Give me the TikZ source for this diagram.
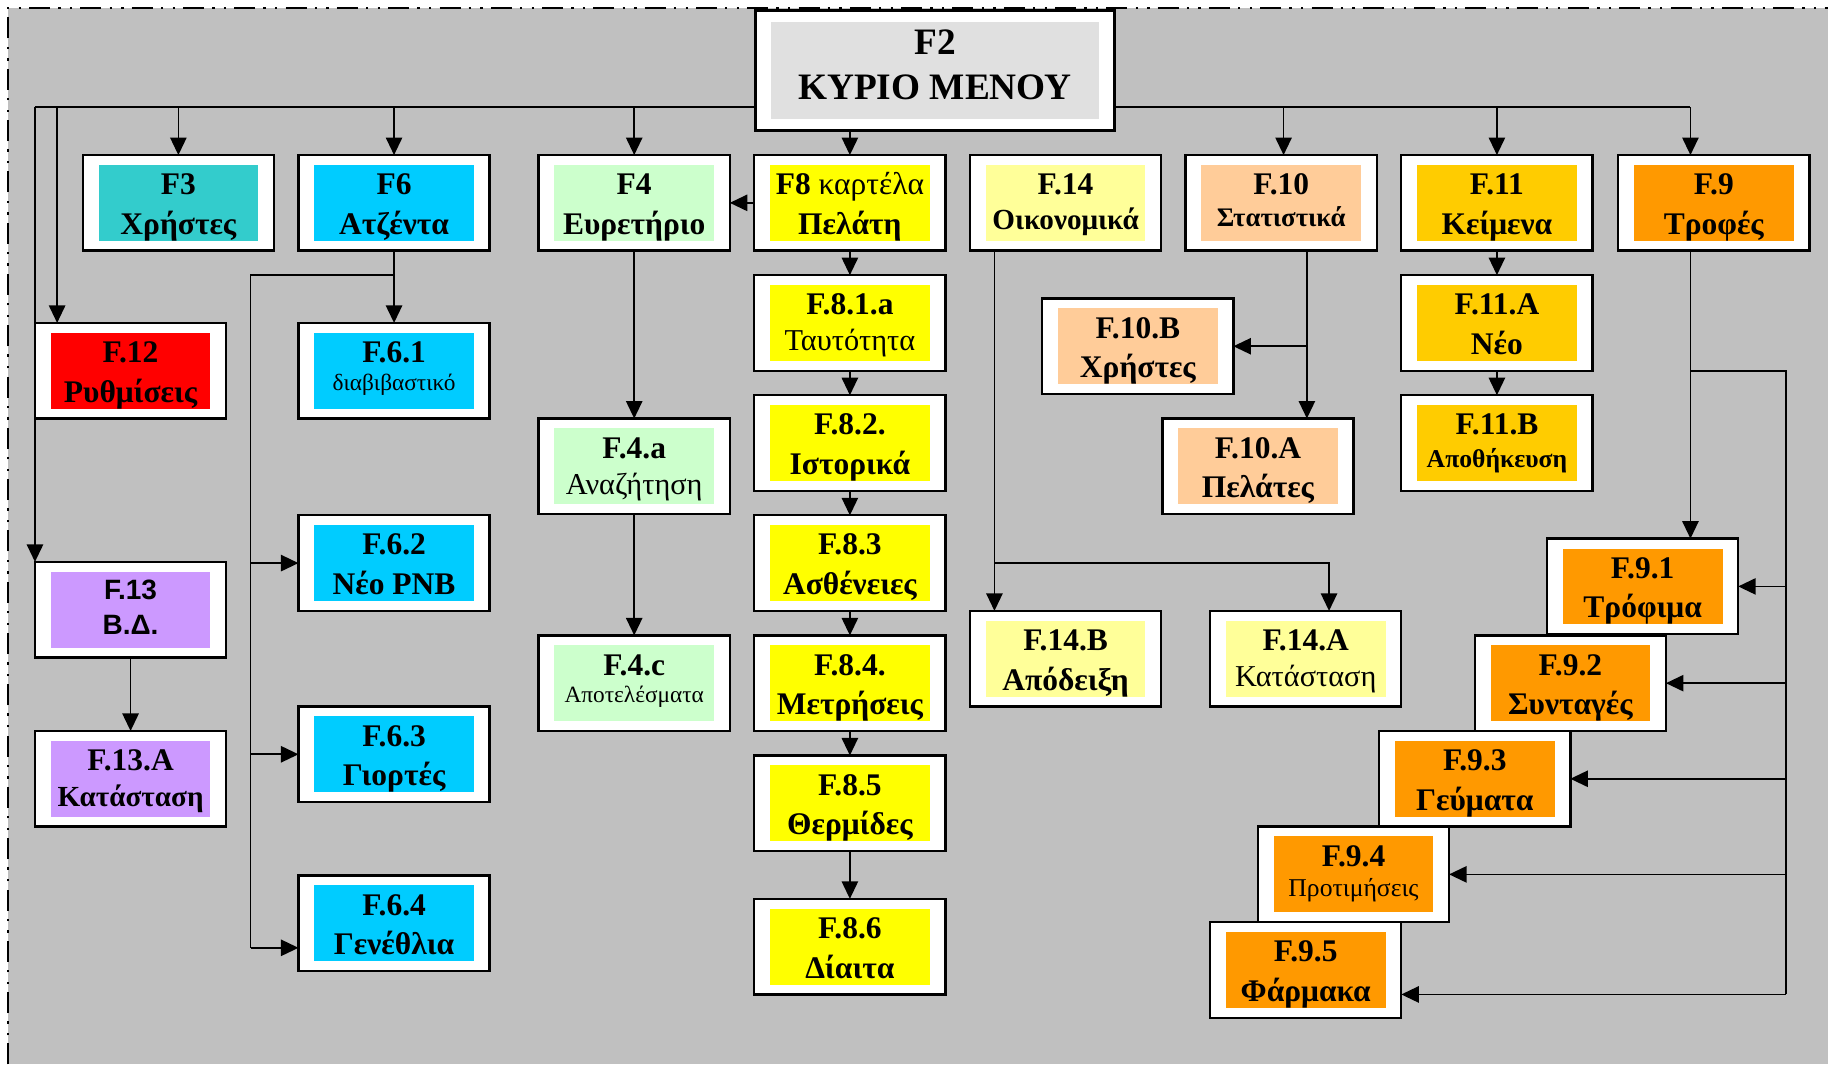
\documentclass[tikz,border=0pt]{standalone}
\usepackage{fontspec}
\setmainfont{Liberation Serif}
\setsansfont{Liberation Sans}
\usetikzlibrary{arrows.meta}

\definecolor{bggray}{HTML}{C0C0C0}
\definecolor{mainfill}{HTML}{E0E0E0}
\definecolor{cTeal}{HTML}{33CCCC}
\definecolor{cCyan}{HTML}{00CCFF}
\definecolor{cMint}{HTML}{CCFFCC}
\definecolor{cYellow}{HTML}{FFFF00}
\definecolor{cPale}{HTML}{FFFF99}
\definecolor{cTan}{HTML}{FFCC99}
\definecolor{cGold}{HTML}{FFCC00}
\definecolor{cOrange}{HTML}{FF9900}
\definecolor{cRed}{HTML}{FF0000}
\definecolor{cLilac}{HTML}{CC99FF}

\tikzset{
  outerbox/.style={draw=black, fill=white, line width=2pt, minimum width=164pt,
    minimum height=82pt, inner sep=0pt, outer sep=0pt, anchor=north west},
  innerbox/.style={draw=none, minimum width=137pt, minimum height=65pt, inner sep=0pt},
  lineA/.style={anchor=base, inner sep=0pt, font=\bfseries\fontsize{27}{30}\selectfont},
  lineB/.style={anchor=base, inner sep=0pt, font=\bfseries\fontsize{27}{30}\selectfont},
  conn/.style={line width=1.4pt, draw=black},
  arr/.style={conn, -{Triangle[length=15pt,width=14pt]}},
  bus/.style={line width=2pt, draw=black},
  frame/.style={line width=2pt, draw=black,
    dash pattern=on 18pt off 7pt on 2pt off 8pt on 2pt off 7pt},
}

% \menubox[baseline offset of line 2]{name}{left}{top}{colour}{line 1}{line 2}
\newcommand\menubox[7][68]{%
  \node[outerbox] (#2) at (#3,#4) {};
  \node[innerbox, fill=#5] at (#2.center) {};
  \node[lineA] at ([yshift=-34pt]#2.north) {#6};
  \node[lineB] at ([yshift=-#1pt]#2.north) {#7};
}
\newcommand\smalltext[2]{{\fontsize{#1}{#1}\selectfont #2}}

\begin{document}
\begin{tikzpicture}[x=1pt, y=-1pt]
\useasboundingbox (0,0) rectangle (1568,913);

% grey sheet with its dash-dot frame
\fill[bggray] (7,7) rectangle (1568,913);
\draw[frame] (7,913) -- (7,7) -- (1568,7);

% main distribution bus
\coordinate (busL) at (30,92);
\coordinate (busR) at (1450,92);
\draw[bus] (busL) -- (busR);

% main menu
\node[outerbox, minimum width=308pt, minimum height=103pt] (F2) at (648,9) {};
\node[innerbox, fill=mainfill, minimum width=281pt, minimum height=84pt] at (F2.center) {};
\node[lineA, font=\bfseries\fontsize{32}{34}\selectfont] at ([yshift=-38pt]F2.north) {F2};
\node[lineA, font=\bfseries\fontsize{32}{34}\selectfont] at ([yshift=-76pt]F2.north) {ΚΥΡΙΟ ΜΕΝΟΥ};

% first row
\menubox{F3}{71}{133}{cTeal}{F3}{Χρήστες}
\menubox{F6}{256}{133}{cCyan}{F6}{Ατζέντα}
\menubox{F4}{462}{133}{cMint}{F4}{Ευρετήριο}
\menubox{F8}{647}{133}{cYellow}{F8 \mdseries καρτέλα}{Πελάτη}
\menubox[64]{F14}{832}{133}{cPale}{F.14}{\smalltext{25}{Οικονομικά}}
\menubox[61]{F10}{1017}{133}{cTan}{F.10}{\smalltext{23}{Στατιστικά}}
\menubox{F11}{1202}{133}{cGold}{F.11}{Κείμενα}
\menubox{F9}{1388}{133}{cOrange}{F.9}{Τροφές}

% settings and database
\menubox{F12}{30}{277}{cRed}{F.12}{Ρυθμίσεις}
\node[outerbox] (F13) at (30,482) {};
\node[innerbox, fill=cLilac] at (F13.center) {};
\node[lineA, font=\sffamily\bfseries\fontsize{24}{26}\selectfont] at ([yshift=-32pt]F13.north) {F.13};
\node[lineA, font=\sffamily\bfseries\fontsize{24}{26}\selectfont] at ([yshift=-62pt]F13.north) {Β.Δ.};
\menubox[65]{F13A}{30}{627}{cLilac}{F.13.A}{\smalltext{25}{Κατάσταση}}

% agenda
\menubox[58]{F61}{256}{277}{cCyan}{F.6.1}{\smalltext{20}{\mdseries διαβιβαστικό}}
\menubox{F62}{256}{442}{cCyan}{F.6.2}{Νέο PNB}
\menubox{F63}{256}{606}{cCyan}{F.6.3}{Γιορτές}
\menubox{F64}{256}{751}{cCyan}{F.6.4}{Γενέθλια}

% index
\menubox[65]{F4a}{462}{359}{cMint}{F.4.a}{\smalltext{26}{\mdseries Αναζήτηση}}
\menubox[58]{F4c}{462}{545}{cMint}{F.4.c}{\smalltext{20}{\mdseries Αποτελέσματα}}

% customer card
\menubox[65]{F81}{647}{236}{cYellow}{F.8.1.a}{\smalltext{26}{\mdseries Ταυτότητα}}
\menubox{F82}{647}{339}{cYellow}{F.8.2.}{Ιστορικά}
\menubox{F83}{647}{442}{cYellow}{F.8.3}{Ασθένειες}
\menubox{F84}{647}{545}{cYellow}{F.8.4.}{Μετρήσεις}
\menubox{F85}{647}{648}{cYellow}{F.8.5}{Θερμίδες}
\menubox{F86}{647}{771}{cYellow}{F.8.6}{Δίαιτα}

% finance
\menubox{F14B}{832}{524}{cPale}{F.14.B}{Απόδειξη}
\menubox[65]{F14A}{1038}{524}{cPale}{F.14.A}{\smalltext{26}{\mdseries Κατάσταση}}

% statistics
\menubox{F10B}{894}{256}{cTan}{F.10.B}{Χρήστες}
\menubox{F10A}{997}{359}{cTan}{F.10.A}{Πελάτες}

% texts
\menubox{F11A}{1202}{236}{cGold}{F.11.A}{Νέο}
\menubox[62]{F11B}{1202}{339}{cGold}{F.11.B}{\smalltext{22}{Αποθήκευση}}

% foods
\menubox{F91}{1327}{462}{cOrange}{F.9.1}{Τρόφιμα}
\menubox{F92}{1265}{545}{cOrange}{F.9.2}{Συνταγές}
\menubox{F93}{1183}{627}{cOrange}{F.9.3}{Γεύματα}
\menubox[60]{F94}{1079}{709}{cOrange}{F.9.4}{\smalltext{22}{\mdseries Προτιμήσεις}}
\menubox{F95}{1038}{791}{cOrange}{F.9.5}{Φάρμακα}

% drops from the main bus
\draw[arr] (F3.north |- busL) -- (F3.north);
\draw[arr] (F6.north |- busL) -- (F6.north);
\draw[arr] (F4.north |- busL) -- (F4.north);
\draw[arr] ([xshift=2pt]F10.north |- busL) -- ([xshift=2pt]F10.north);
\draw[arr] (F11.north |- busL) -- (F11.north);
\draw[arr] ([xshift=-20pt]F9.north |- busL) -- ([xshift=-20pt]F9.north);
\draw[arr] ([xshift=19pt]F12.north west |- busL) -- ([xshift=19pt]F12.north west);
\draw[arr] (busL) -- (F13.north west);
\draw[arr] (F8.north |- F2.south) -- (F8.north);

% customer card chain
\draw[arr] (F8.west) -- (F4.east);
\draw[arr] (F8.south) -- (F81.north);
\draw[arr] (F81.south) -- (F82.north);
\draw[arr] (F82.south) -- (F83.north);
\draw[arr] (F83.south) -- (F84.north);
\draw[arr] (F84.south) -- (F85.north);
\draw[arr] (F85.south) -- (F86.north);

% index chain
\draw[arr] (F4.south) -- (F4a.north);
\draw[arr] (F4a.south) -- (F4c.north);

% database
\draw[arr] (F13.south) -- (F13A.north);

% agenda branch
\coordinate (f6j) at (215,236);
\draw[arr] (F6.south) -- (F61.north);
\draw[conn] (F6.south |- f6j) -- (f6j) -- ([yshift=-21pt]F64.west -| f6j);
\draw[arr] (F62.west -| f6j) -- (F62.west);
\draw[arr] (F63.west -| f6j) -- (F63.west);
\draw[arr] ([yshift=-21pt]F64.west -| f6j) -- ([yshift=-21pt]F64.west);

% finance branch
\coordinate (f14j) at (853,483);
\draw[conn] (F14.south -| f14j) -- (f14j);
\draw[arr] (f14j) -- (F14B.north -| f14j);
\draw[arr] (f14j) -- ([xshift=20pt]F14A.north |- f14j) -- ([xshift=20pt]F14A.north);

% statistics branch
\coordinate (f10j) at (1121,297);
\draw[arr] (F10.south -| f10j) -- (F10A.north -| f10j);
\draw[arr] (f10j) -- (F10B.east);

% texts chain
\draw[arr] (F11.south) -- (F11A.north);
\draw[arr] (F11A.south) -- (F11B.north);

% foods branch
\coordinate (f9j) at (1450,318);
\coordinate (f9r) at (1532,318);
\draw[arr] (F9.south -| f9j) -- (F91.north -| f9j);
\draw[conn] (f9j) -- (f9r) -- ([yshift=-21pt]F95.east -| f9r);
\draw[arr] (F91.east -| f9r) -- (F91.east);
\draw[arr] (F92.east -| f9r) -- (F92.east);
\draw[arr] (F93.east -| f9r) -- (F93.east);
\draw[arr] (F94.east -| f9r) -- (F94.east);
\draw[arr] ([yshift=-21pt]F95.east -| f9r) -- ([yshift=-21pt]F95.east);
\end{tikzpicture}
\end{document}
